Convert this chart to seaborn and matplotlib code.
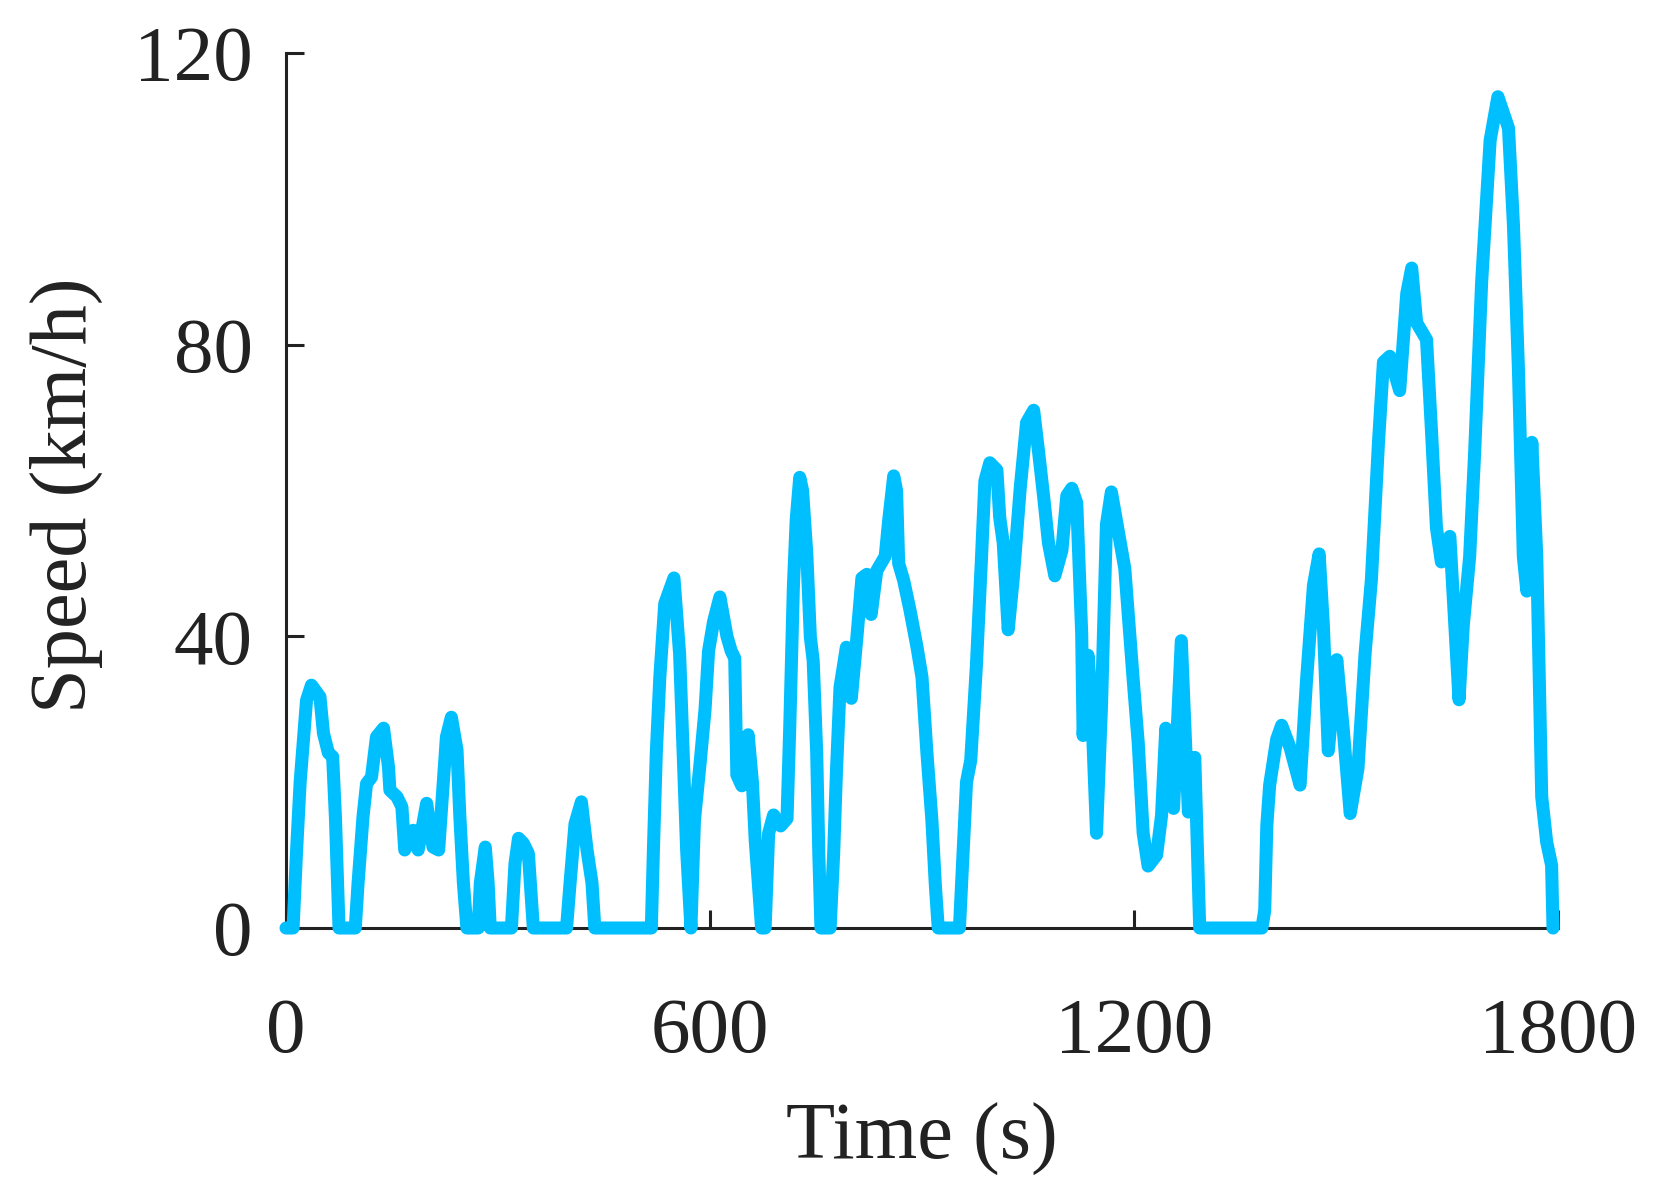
import matplotlib
matplotlib.use("Agg")
import matplotlib.pyplot as plt
import pandas as pd
import seaborn as sns

# Speed trace (s, km/h)
time_s = [
    0, 10, 15, 20, 29, 36, 48, 53, 60, 66, 70, 75,
    98, 102, 109, 114, 121, 128, 138, 145, 147, 157, 164, 168, 180, 187, 199, 208, 216, 223, 227, 234, 242, 246, 251, 256,
    272, 275, 282, 286, 289,
    319, 324, 329, 336, 343, 350,
    397, 402, 409, 418, 426, 433, 437,
    517, 520, 524, 529, 536, 549, 557, 562, 567, 573, 578, 586, 593, 598, 605, 614, 624, 630, 635, 638,
    645, 654, 660, 664, 670, 673, 678, 683, 690, 700, 709, 713, 718, 722, 727, 731, 737, 742, 746, 751,
    754, 757, 770, 775, 779, 784, 793, 800, 808, 815, 822, 828, 836, 848, 853, 860, 864, 867, 874, 883,
    893, 900, 907, 914, 919, 923,
    953, 958, 963, 969, 977, 984, 989, 996, 1006, 1010, 1015, 1022, 1029, 1039, 1048, 1058, 1065, 1072, 1079, 1088,
    1098, 1105, 1112, 1119, 1126, 1128, 1135, 1140, 1147, 1154, 1161, 1168, 1178, 1187, 1192, 1199, 1206, 1213, 1220, 1232,
    1239, 1245, 1256, 1267, 1277, 1286, 1293,
    1381, 1385, 1388, 1392, 1402, 1409, 1421, 1435, 1444, 1454, 1462, 1468, 1475, 1487, 1496, 1506, 1517, 1527, 1536, 1546,
    1553, 1562, 1576, 1586, 1593, 1600, 1614, 1621, 1628, 1635, 1647, 1654, 1660, 1666, 1675, 1682, 1692, 1704, 1715, 1730,
    1737, 1744, 1751, 1756, 1763, 1770, 1777, 1784, 1791, 1793,
]
speed_kmh = [
    0, 0, 10.7, 20, 31.2, 33.3, 31.7, 26.7, 24, 23.5, 15, 0,
    0, 6.2, 15.3, 19.8, 20.7, 26.2, 27.4, 22.1, 18.9, 18, 16.6, 10.7, 13.4, 10.7, 17.1, 11.1, 10.7, 20.7, 26.2, 28.9, 24.4, 15.3, 6.2, 0,
    0, 6.2, 11.1, 6.2, 0,
    0, 8.8, 12.3, 11.6, 10.2, 0,
    0, 6.2, 14.3, 17.3, 10.7, 6.2, 0,
    0, 11, 24, 34.4, 44.5, 48, 37.6, 24, 10.6, 0, 14.8, 22.6, 30, 38, 42, 45.4, 40, 38, 37, 21,
    19.5, 26.5, 20, 12, 4, 0, 0, 13, 15.5, 14, 15, 28, 46.8, 56, 61.8, 60, 51.3, 39.9, 36.7, 24,
    10.2, 0, 0, 10.2, 21.6, 33, 38.5, 31.5, 40, 48, 48.5, 43, 49, 51, 56, 62, 60, 50, 47.7, 43.6,
    38.5, 34.4, 24, 14.8, 5.7, 0,
    0, 10, 20, 23, 36, 50.3, 61.3, 63.8, 62.8, 56.3, 52.8, 40.9, 47.8, 60.3, 69.3, 71, 65.3, 59.3, 52.8, 48.3,
    51.8, 59.3, 60.3, 58.3, 40.4, 26.4, 37.4, 30.4, 13, 30.4, 55.3, 59.8, 54.3, 49.3, 42.9, 33.9, 25.4, 13, 8.5, 10,
    15.4, 27.4, 16.4, 39.4, 15.9, 23.4, 0,
    0, 2.4, 14.1, 19.6, 25.9, 27.8, 24.7, 19.6, 33.7, 47, 51.3, 41.5, 24.3, 36.8, 27.4, 15.7, 21.9, 37.6, 47.8, 66.6,
    77.6, 78.4, 73.7, 87, 90.5, 83, 80.7, 68.2, 54.9, 50.2, 53.7, 41.5, 31.3, 41.5, 50.9, 65, 88.6, 108, 114, 109.7,
    96.4, 76.8, 50.9, 46.2, 66.6, 50.9, 18, 11.8, 8.6, 0,
]

x_ticks = [0, 600, 1200, 1800]
y_ticks = [0, 40, 80, 120]

sns.set_style("ticks")
plt.rcParams['font.family'] = ['Liberation Serif', 'DejaVu Serif']
plt.rcParams['axes.edgecolor'] = '#222222'
plt.rcParams['axes.linewidth'] = 2.2

df = pd.DataFrame({'Time (s)': time_s, 'Speed (km/h)': speed_kmh})

fig = plt.figure(figsize=(16.59, 12.01), dpi=100)
ax = fig.add_axes([0.1724, 0.2273, 0.7667, 0.7286])

sns.lineplot(data=df, x='Time (s)', y='Speed (km/h)', ax=ax, color='#00BFFF',
             linewidth=9.4, sort=False, estimator=None, clip_on=False, zorder=5,
             solid_joinstyle='round', solid_capstyle='round')

ax.set_xlim(0, 1800)
ax.set_ylim(0, 120)
ax.set_xticks(x_ticks)
ax.set_yticks(y_ticks)
sns.despine(ax=ax)

ax.tick_params(direction='in', length=13, width=2.2, labelsize=57,
               colors='#222222')
ax.tick_params(axis='x', pad=50)
ax.tick_params(axis='y', pad=24)

ax.set_xlabel('Time (s)', fontsize=58, color='#222222')
ax.set_ylabel('Speed (km/h)', fontsize=58, color='#222222')
ax.xaxis.set_label_coords(0.5, -0.2)
ax.yaxis.set_label_coords(-0.144, 0.494)

fig.savefig('out.png', dpi=100)
